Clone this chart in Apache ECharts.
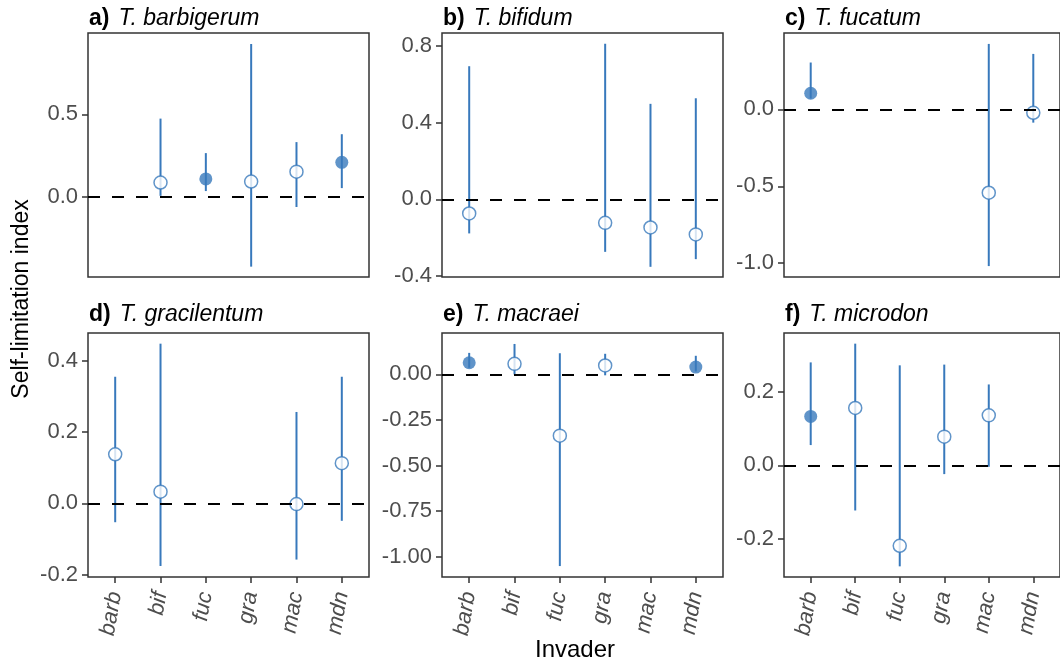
<!DOCTYPE html>
<html>
<head>
<meta charset="utf-8">
<title>Self-limitation index</title>
<script src="https://cdn.jsdelivr.net/npm/echarts@6/dist/echarts.min.js"></script>
<style>
  html, body { margin: 0; padding: 0; background: #fff; }
  #main { width: 1060px; height: 663px; }
</style>
</head>
<body>
<div id="main"></div>
<script>
// invader categories (x axis)
var invaders = ['barb', 'bif', 'fuc', 'gra', 'mac', 'mdn'];

// panel headings
var panelTags = ['a)', 'b)', 'c)', 'd)', 'e)', 'f)'];
var panelSpecies = ['T. barbigerum', 'T. bifidum', 'T. fucatum', 'T. gracilentum', 'T. macraei', 'T. microdon'];

// estimates, interval bounds and whether the interval excludes zero (filled dot)
var estA = [null, 0.085, 0.107, 0.091, 0.151, 0.208];
var loA  = [null, 0.004, 0.033, -0.427, -0.064, 0.051];
var hiA  = [null, 0.474, 0.264, 0.928, 0.331, 0.379];
var sigA = [0, 0, 1, 0, 0, 1];

var estB = [-0.074, null, null, -0.123, -0.147, -0.183];
var loB  = [-0.178, null, null, -0.274, -0.352, -0.312];
var hiB  = [0.693, null, null, 0.810, 0.497, 0.526];
var sigB = [0, 0, 0, 0, 0, 0];

var estC = [0.105, null, null, null, -0.542, -0.022];
var loC  = [0.071, null, null, null, -1.019, -0.086];
var hiC  = [0.305, null, null, null, 0.426, 0.361];
var sigC = [1, 0, 0, 0, 0, 0];

var estD = [0.138, 0.033, null, null, -0.002, 0.113];
var loD  = [-0.053, -0.176, null, null, -0.158, -0.049];
var hiD  = [0.356, 0.449, null, null, 0.257, 0.356];
var sigD = [0, 0, 0, 0, 0, 0];

var estE = [0.064, 0.058, -0.336, 0.049, null, 0.040];
var loE  = [0.036, 0.000, -1.051, -0.005, null, 0.016];
var hiE  = [0.118, 0.167, 0.116, 0.113, null, 0.102];
var sigE = [1, 0, 0, 0, 0, 1];

var estF = [0.133, 0.156, -0.219, 0.078, 0.136, null];
var loF  = [0.055, -0.123, -0.275, -0.024, -0.004, null];
var hiF  = [0.280, 0.331, 0.272, 0.274, 0.220, null];
var sigF = [1, 0, 0, 0, 0, 0];

// y tick labels per panel
var yTicksA = [0, 0.5];
var yTicksB = [-0.4, 0, 0.4, 0.8];
var yTicksC = [-1, -0.5, 0];
var yTicksD = [-0.2, 0, 0.2, 0.4];
var yTicksE = [-1, -0.75, -0.5, -0.25, 0];
var yTicksF = [-0.2, 0, 0.2];

var panels = [
  { est: estA, lo: loA, hi: hiA, sig: sigA, ticks: yTicksA, dec: 1, min: -0.49, max: 0.995 },
  { est: estB, lo: loB, hi: hiB, sig: sigB, ticks: yTicksB, dec: 1, min: -0.405, max: 0.866 },
  { est: estC, lo: loC, hi: hiC, sig: sigC, ticks: yTicksC, dec: 1, min: -1.09, max: 0.497 },
  { est: estD, lo: loD, hi: hiD, sig: sigD, ticks: yTicksD, dec: 1, min: -0.207, max: 0.479 },
  { est: estE, lo: loE, hi: hiE, sig: sigE, ticks: yTicksE, dec: 2, min: -1.111, max: 0.227 },
  { est: estF, lo: loF, hi: hiF, sig: sigF, ticks: yTicksF, dec: 1, min: -0.304, max: 0.36 }
];

var BLUE = '#3879bc';
var FONT = '"Liberation Sans", Arial, Helvetica, sans-serif';
var lefts = [88, 442, 784];
var tops = [33, 333];
var PW = 281, PH = 244;

var grids = [], xAxes = [], yAxes = [], series = [], titles = [];
var xIdx = [0, 1, 2, 3, 4, 5];

panels.forEach(function (p, k) {
  var col = k % 3, row = Math.floor(k / 3);
  var bottomRow = row === 1;
  grids.push({
    left: lefts[col], top: tops[row], width: PW, height: PH,
    show: true, borderColor: '#333333', borderWidth: 1.5, backgroundColor: 'transparent'
  });
  xAxes.push({
    type: 'value', gridIndex: k, min: -0.6, max: 5.6,
    axisLine: { show: false, onZero: false },
    splitLine: { show: false },
    axisTick: { show: bottomRow, customValues: xIdx, length: 6, lineStyle: { color: '#333333', width: 1.5 } },
    axisLabel: {
      show: bottomRow, customValues: xIdx, rotate: 80, margin: 15,
      padding: [16, 0, 0, 0],
      fontFamily: FONT, fontSize: 22, fontStyle: 'italic', color: '#4d4d4d',
      formatter: function (v) { return invaders[Math.round(v)]; }
    }
  });
  yAxes.push({
    type: 'value', gridIndex: k, min: p.min, max: p.max,
    axisLine: { show: false, onZero: false },
    splitLine: { show: false },
    axisTick: { show: true, customValues: p.ticks, length: 6, lineStyle: { color: '#333333', width: 1.5 } },
    axisLabel: {
      customValues: p.ticks, margin: 10,
      fontFamily: FONT, fontSize: 22, color: '#4d4d4d',
      formatter: function (v) { return v.toFixed(p.dec); }
    }
  });
  titles.push({
    text: '{b|' + panelTags[k] + '}{i|' + panelSpecies[k] + '}',
    left: lefts[col] + 1, top: row === 0 ? 7 : 303,
    padding: 0,
    textStyle: {
      fontWeight: 'normal',
      rich: {
        b: { fontFamily: FONT, fontSize: 23, fontWeight: 'bold', color: '#000', padding: [0, 9, 0, 0] },
        i: { fontFamily: FONT, fontSize: 23, fontWeight: 'normal', fontStyle: 'italic', color: '#000' }
      }
    }
  });

  var bars = [], dots = [];
  invaders.forEach(function (name, i) {
    if (p.est[i] === null) return;
    bars.push([i, p.lo[i], p.hi[i]]);
    dots.push({
      value: [i, p.est[i]],
      itemStyle: p.sig[i]
        ? { color: BLUE, borderWidth: 0 }
        : { color: '#ffffff', borderColor: BLUE, borderWidth: 1.5 }
    });
  });

  // zero reference line
  series.push({
    type: 'line', xAxisIndex: k, yAxisIndex: k, data: [], silent: true, z: 2,
    markLine: {
      silent: true, symbol: 'none', label: { show: false },
      lineStyle: { color: '#000', width: 2, type: [12, 12] },
      data: [{ yAxis: 0 }]
    }
  });
  // intervals
  series.push({
    type: 'custom', xAxisIndex: k, yAxisIndex: k, z: 3, silent: true,
    encode: { x: 0, y: [1, 2] },
    data: bars,
    renderItem: function (params, api) {
      var a = api.coord([api.value(0), api.value(1)]);
      var b = api.coord([api.value(0), api.value(2)]);
      return {
        type: 'line',
        shape: { x1: a[0], y1: a[1], x2: b[0], y2: b[1] },
        style: { stroke: BLUE, lineWidth: 2 }
      };
    }
  });
  // point estimates
  series.push({
    type: 'scatter', xAxisIndex: k, yAxisIndex: k, z: 4, silent: true,
    symbol: 'circle', symbolSize: 13,
    data: dots
  });
});

var chart = echarts.init(document.getElementById('main'));
chart.setOption({
  backgroundColor: '#ffffff',
  animation: false,
  title: titles,
  grid: grids,
  xAxis: xAxes,
  yAxis: yAxes,
  series: series,
  graphic: [
    {
      type: 'text', x: 22, y: 299, rotation: Math.PI / 2,
      style: { text: 'Self-limitation index', fontFamily: FONT, fontSize: 23, fill: '#000', align: 'center', verticalAlign: 'middle' }
    },
    {
      type: 'text', x: 575, y: 650,
      style: { text: 'Invader', fontFamily: FONT, fontSize: 24, fill: '#000', align: 'center', verticalAlign: 'middle' }
    }
  ]
});
</script>
</body>
</html>
